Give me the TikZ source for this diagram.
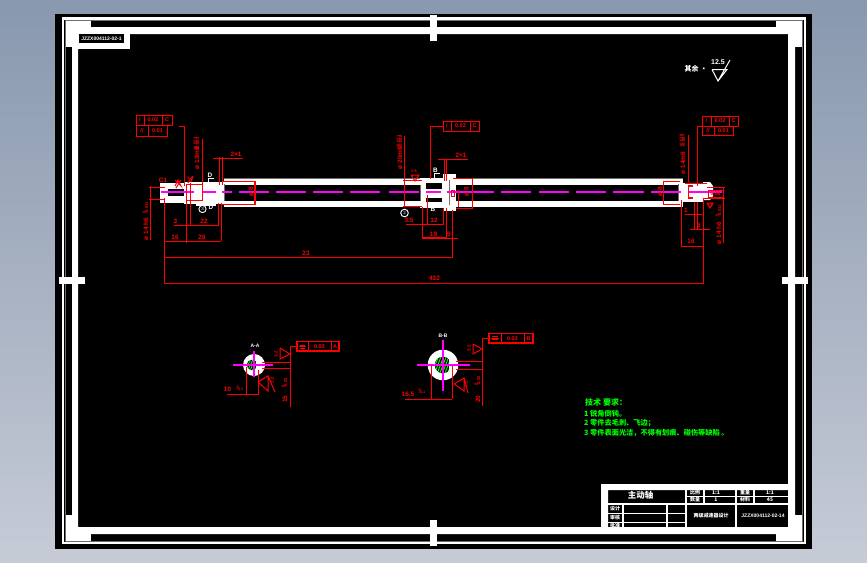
\documentclass[tikz,border=0pt]{standalone}
\usepackage{fontspec}
\setmainfont{Liberation Sans}
\newfontfamily\cjk{Noto Sans CJK SC}
\definecolor{bgtop}{RGB}{136,152,174}
\definecolor{bgbot}{RGB}{198,203,214}
\definecolor{rd}{RGB}{255,0,0}
\definecolor{mg}{RGB}{255,0,255}
\definecolor{gn}{RGB}{0,255,0}
\definecolor{edge}{RGB}{110,110,110}
\newcommand{\tolstk}[2]{\begin{tabular}{@{}l@{}}#1\\[-1.6pt]#2\end{tabular}}
\tikzset{
  x=1pt,y=-1pt,
  wfill/.style={fill=white,draw=none},
  rl/.style={draw=rd,line width=1pt},
  rb/.style={draw=rd,line width=1.6pt},
  ctr/.style={draw=mg,line width=1.1pt},
  wl/.style={draw=white,line width=1.1pt},
  rt/.style={text=rd,font=\bfseries\fontsize{6.4}{6.4}\selectfont,inner sep=0pt},
  rtv/.style={rt,rotate=90},
  tolr/.style={rt,font=\bfseries\fontsize{4.2}{4.2}\selectfont,rotate=90},
  cellt/.style={rt,font=\bfseries\fontsize{5.5}{5.5}\selectfont},
  wt/.style={text=white,font=\bfseries\fontsize{6.4}{6.4}\selectfont,inner sep=0pt},
  gt/.style={text=gn,font=\cjk\bfseries\fontsize{7.2}{7.2}\selectfont,inner sep=0pt,anchor=west},
  tbt/.style={text=white,font=\cjk\bfseries\fontsize{5}{5}\selectfont,inner sep=0pt},
}
\begin{document}
\begin{tikzpicture}
\useasboundingbox (0,0) rectangle (867,562);
\shade[top color=bgtop,bottom color=bgbot] (0,0) rectangle (867,562);
\fill[black] (55,14) rectangle (812,549);
% outer thin frame
\draw[white,line width=2.6pt] (63,18.5) rectangle (805,543);
\draw[edge,line width=0.8pt] (65.5,20.5) rectangle (802.5,541);
% thick frame
\fill[white,even odd rule] (72,27) rectangle (795,534) (78,34) rectangle (788,527);
% corner blocks
\fill[white] (66,21) rectangle (91,34);
\fill[white] (66,21) rectangle (78,47);
\fill[white] (776,21) rectangle (802,34);
\fill[white] (788,21) rectangle (802,47);
\fill[white] (66,515) rectangle (78,541);
\fill[white] (66,527) rectangle (91,541);
\fill[white] (776,527) rectangle (802,541);
\fill[white] (788,515) rectangle (802,541);
% centre ticks
\fill[white] (430,15) rectangle (437,41);
\fill[white] (430,520) rectangle (437,546);
\fill[white] (59,277) rectangle (85,284);
\fill[white] (782,277) rectangle (808,284);
% label top left
\fill[white] (78,34) rectangle (130,49);
\fill[black] (79,34) rectangle (124,43);
\node[wt,font=\bfseries\fontsize{5}{5}\selectfont] (lbl) at (101.5,38.5) {JZZX004112-02-1};
% roughness top right
\node[wt,font=\cjk\bfseries\fontsize{7}{7}\selectfont] (qy) at (696,68.5) {其余 ·};
\node[wt,font=\bfseries\fontsize{7}{7}\selectfont] (ra) at (718,62) {12.5};
\draw[white,line width=1pt] (712,69.5) -- (727,69.5) -- (718,81) -- (712,69.5) (718,81) -- (730,60);
% ---------------- shaft
\fill[white] (224,178) rectangle (683,185);
\fill[white] (224,201) rectangle (683,207);
\draw[edge,line width=0.7pt] (224,178) -- (683,178);
\fill[white] (160,183) rectangle (184,203);
\fill[white] (184,182) rectangle (224,204);
\fill[white] (196,204) rectangle (216,206);
\fill[black] (168,189) rectangle (184,196);
\draw[white,line width=0.6pt] (168,192.5) -- (184,192.5);
\draw[edge,line width=0.8pt] (224.5,184) -- (224.5,201);
% middle block
\fill[white] (420,178) rectangle (443,208);
\fill[white] (443,174) rectangle (456,211);
\fill[black] (426,183) rectangle (442,189);
\fill[black] (426,198) rectangle (442,202);
\draw[edge,line width=0.7pt] (449.5,180) -- (449.5,205);
\draw[edge,line width=0.7pt] (420,185) -- (420,201);
% right end
\fill[white] (678,184) rectangle (703,202);
\fill[white] (683,183) rectangle (703,202);
\fill[white] (703,182) -- (710,182) -- (713,186) -- (713,196) -- (710,200) -- (703,200) -- cycle;
\draw[edge,line width=0.8pt] (678,184) -- (678,201);
% letter marks
\node[wt] (dtop) at (210,175) {D};
\draw[white,line width=0.8pt] (208,182) -- (208,178) -- (214,178);
\node[wt] (dbot) at (211,207) {D};
\draw[white,line width=0.9pt] (202.5,209) circle (3.6);
\node[wt,font=\fontsize{4.5}{4.5}\selectfont] (d3) at (202.5,209) {3};
\node[wt] (btop) at (435.5,170) {B};
\draw[white,line width=0.8pt] (434,178) -- (434,173.5) -- (440,173.5);
\node[wt] (bbot) at (433,209.5) {B};
\draw[white,line width=0.9pt] (404.5,213) circle (3.8);
\node[wt,font=\fontsize{4.5}{4.5}\selectfont] (b2) at (404.5,213) {2};
% centre line
\foreach \a/\b in {161/194,203/216,222/232,239/269,276/306,313/343,350/380,389/419,426/441,447/494,501/531,539/569,576/606,613/644,651/681,688/722}
  \draw[ctr] (\a,192) -- (\b,192);
% ---------------- left dims
\draw[rl] (136,115) rectangle (172,125) (144,115) -- (144,125) (162,115) -- (162,125);
\draw[rl] (136,125) rectangle (167,136) (148,125) -- (148,136);
\node[cellt] (a1) at (140,120) {/};
\node[cellt] (a2) at (153,120) {0.02};
\node[cellt] (a3) at (167,120) {C};
\node[cellt] (a4) at (142,130.5) {//};
\node[cellt] (a5) at (157.5,130.5) {0.01};
\draw[rl] (179,126) -- (184.5,126) -- (184.5,186);
\node[rtv] (l1) at (197,158) {ø 13m6};
\node[tolr] (l1t) at (197,144) {\tolstk{+0.023}{+0.002}};
\draw[rl] (202,139) -- (202,200) (186,200) -- (203,200) (186,184.5) -- (203,184.5);
\node[rt] (l2) at (236,154) {2×1};
\draw[rl] (213,158) -- (243,158) (219,157) -- (219,185) (222,157) -- (222,185);
\node[rtv] (l3) at (146,229) {ø 14 h6};
\node[tolr] (l3t) at (146,208) {\tolstk{0}{-0.011}};
\draw[rl] (150,186) -- (150,240) (149,187) -- (165,187) (149,199) -- (164,199);
\node[rt] (l4) at (175.5,221) {3};
\node[rt] (l5) at (204,221) {22};
\draw[rl] (174,225) -- (218,225) (190,183) -- (190,225) (218,203) -- (218,226);
\node[rt] (l6) at (175,237) {16};
\node[rt] (l7) at (202,237) {26};
\draw[rl] (164,241) -- (221,241) (164,198) -- (164,284) (186,184) -- (186,243) (221,203) -- (221,241);
\draw[rb] (222,181.5) -- (255,181.5) -- (255,204.5) -- (222,204.5);
\node[rtv] (l8) at (251,192) {ø 8};
\node[rt] (l9) at (163,180) {C1};
\draw[rl] (175,186) -- (178,180) -- (181,186) -- (175,180) (181,180) -- (176,188);
\draw[rl] (188,183) -- (191,178) (191,182) -- (193,176);
\node[rt,font=\bfseries\fontsize{4}{4}\selectfont] (l10) at (190,178) {1.6};
\draw[rl] (164,257) -- (452,257) (164,283) -- (703,283);
\node[rt] (d1) at (306,253) {23};
\node[rt] (d2) at (434.5,278.5) {432};
% ---------------- middle dims
\draw[rl] (443,121) rectangle (479,131) (451,121) -- (451,131) (470,121) -- (470,131);
\node[cellt] (b3) at (447,126) {/};
\node[cellt] (b4) at (460.5,126) {0.02};
\node[cellt] (b5) at (474.5,126) {C};
\draw[rl] (443,126) -- (430.5,126) -- (430.5,179);
\node[rtv] (m1) at (400,158) {ø 20m6};
\node[tolr] (m1t) at (400,142) {\tolstk{+0.021}{+0.008}};
\draw[rl] (404,136) -- (404,206) (403,180) -- (422,180) (403,206) -- (422,206);
\draw[rl] (411,175) -- (419,175) -- (415,181) -- (411,175);
\node[rt,font=\bfseries\fontsize{4}{4}\selectfont] (m2) at (414,171) {1.6};
\node[rt] (m3) at (461,155) {2×1};
\draw[rl] (438,159) -- (468,159) (444,159) -- (444,181) (446.5,159) -- (446.5,181);
\draw[rl] (453,178) -- (472,178) -- (472,208) -- (456,208);
\node[rtv] (m4) at (466.5,192) {ø 8};
\draw[rl] (458,190) -- (458,207) (451,190) rectangle (454,196);
\node[rt] (m5) at (409,220) {3.5};
\node[rt] (m6) at (434,220) {12};
\draw[rl] (406,224) -- (443,224) (427,195) -- (427,225) (443,208) -- (443,225);
\node[rt] (m7) at (433.5,234) {19};
\node[rt] (m8) at (449,234) {5};
\draw[rb] (422,238) -- (446,238);
\draw[rl] (446,238) -- (458,238) (422,207) -- (422,238) (446,208) -- (446,238) (452,210) -- (452,258);
% ---------------- right dims
\draw[rl] (702,116) rectangle (738,126) (711,116) -- (711,126) (729,116) -- (729,126);
\draw[rl] (702,126) rectangle (733,135) (714,126) -- (714,135);
\node[cellt] (c1) at (706.5,121) {/};
\node[cellt] (c2) at (720,121) {0.02};
\node[cellt] (c3) at (733.5,121) {C};
\node[cellt] (c4) at (708,130.5) {//};
\node[cellt] (c5) at (723.5,130.5) {0.01};
\draw[rl] (702,126) -- (697.5,126) -- (697.5,186);
\node[rtv] (r1) at (683,163) {ø 14m6};
\node[tolr] (r1t) at (683,141) {\tolstk{+0.018}{+0.007}};
\draw[rl] (688,135) -- (688,182) (685,183) -- (707,183);
\draw[rl] (707,187) -- (725,187) (703,198) -- (725,198) (723,187) -- (723,243);
\node[rtv] (r2) at (719,233) {ø 14 h6};
\node[tolr] (r2t) at (719,211) {\tolstk{0}{-0.011}};
\draw[rb] (680,181.5) -- (663.5,181.5) -- (663.5,204.5) -- (680,204.5);
\node[rtv] (r3) at (660,192) {ø 8};
\draw[rb] (693,186) -- (688.5,186) -- (688.5,198) -- (693,198);
\draw[rl] (708,190) rectangle (723,197);
\node[rt,font=\bfseries\fontsize{5}{5}\selectfont] (r4) at (715.5,193.5) {0.08};
\node[rt,font=\bfseries\fontsize{4}{4}\selectfont] (r5) at (710,205) {1.6};
\draw[rl] (707,203) -- (713,203) -- (710,208) -- (707,203);
\draw[rl] (681,200) -- (681,247) (703,198) -- (703,284) (681,246) -- (703,246);
\node[rt] (r6) at (691,241) {16};
\draw[rl] (694,202) -- (694,230) (697,202) -- (697,230) (685,214) -- (702,214) (690,229) -- (710,229);
\node[rt] (r7) at (686,210) {1};
\node[rt] (r8) at (699,225) {6};
% ---------------- section A-A
\fill[white] (254,365) circle (11);
\begin{scope}
\clip (252,365) circle (5.3);
\clip (246,358) rectangle (256,372);
\fill[black] (246,358) rectangle (256,372);
\foreach \k in {0,2.4,...,26} \draw[gn,line width=0.8pt] (240+\k,376) -- (250+\k,356);
\end{scope}
\draw[ctr] (233,365) -- (273,365) (254,351) -- (254,377);
\node[wt,font=\bfseries\fontsize{5}{5}\selectfont] (sa) at (255,346) {A-A};
\draw[rl] (290,346) -- (290,407) (290,346) -- (297,346);
\draw[rb] (297,341.5) rectangle (339,351);
\draw[rl] (308,341.5) -- (308,351) (331,341.5) -- (331,351);
\draw[rl] (300,345) -- (305,345) (299,346.5) -- (306,346.5) (300,348) -- (305,348);
\node[cellt] (sa2) at (319.5,346.5) {0.02};
\node[cellt] (sa3) at (335,346.5) {A};
\draw[rl] (262,362) -- (290,362) (262,368) -- (290,368);
\draw[rl] (280,348) -- (280,359) -- (290,354) -- (280,348);
\node[rtv,font=\bfseries\fontsize{4.5}{4.5}\selectfont] (sa4) at (276,354) {3.2};
\draw[rl] (258,382) -- (268,376) -- (268,391) -- (258,382) (268,376) -- (275,392);
\node[rtv,font=\bfseries\fontsize{4.5}{4.5}\selectfont] (sa5) at (272,380) {3.2};
\node[rtv] (sa6) at (285,399) {15};
\node[tolr] (sa7) at (285,383) {\tolstk{0}{-0.02}};
\draw[rl] (246,367) -- (246,395) (258,370) -- (258,395) (227,394) -- (258,394);
\node[rt] (sa8) at (227.5,389.5) {10};
\node[rt,font=\bfseries\fontsize{3.8}{3.8}\selectfont] (sa9) at (240,388.5) {\tolstk{0}{-0.1}};
% ---------------- section B-B
\fill[white] (443,365) circle (15.3);
\begin{scope}
\clip (443,365) circle (8.3);
\clip (434,355) rectangle (449,375);
\fill[black] (434,355) rectangle (449,375);
\foreach \k in {0,2.6,...,36} \draw[gn,line width=0.9pt] (425+\k,378) -- (435+\k,352);
\end{scope}
\draw[ctr] (417,365) -- (470,365) (443,340) -- (443,391);
\node[wt,font=\bfseries\fontsize{5}{5}\selectfont] (sb) at (443,336) {B-B};
\draw[rl] (482,339) -- (482,406) (482,338) -- (489,338);
\draw[rb] (489,333.5) rectangle (533,343);
\draw[rl] (501,333.5) -- (501,343) (524,333.5) -- (524,343);
\draw[rl] (492,336.5) -- (498,336.5) (491,338) -- (499,338) (492,339.5) -- (498,339.5);
\node[cellt] (sb2) at (512.5,338.5) {0.02};
\node[cellt] (sb3) at (528.5,338.5) {B};
\draw[rl] (456,361) -- (483,361) (456,369) -- (483,369);
\draw[rl] (473,344) -- (473,354) -- (482,349) -- (473,344);
\node[rtv,font=\bfseries\fontsize{4.5}{4.5}\selectfont] (sb4) at (469,348) {3.2};
\draw[rl] (454,384) -- (464,378) -- (464,391) -- (454,384) (464,378) -- (468,393);
\node[rtv,font=\bfseries\fontsize{4.5}{4.5}\selectfont] (sb5) at (466,384) {3.2};
\node[rtv] (sb6) at (478,399) {20};
\node[tolr] (sb7) at (478,381) {\tolstk{0}{-0.02}};
\draw[rl] (431,365) -- (431,399) (452,366) -- (452,399) (405,399) -- (452,399);
\node[rt] (sb8) at (408,394) {16.5};
\node[rt,font=\bfseries\fontsize{3.8}{3.8}\selectfont] (sb9) at (422,392) {\tolstk{0}{-0.1}};
% ---------------- technical notes
\node[gt,font=\cjk\bfseries\fontsize{8}{8}\selectfont] (n0) at (585,402) {技术 要求：};
\node[gt] (n1) at (584,414) {1 锐角倒钝。};
\node[gt] (n2) at (584,423) {2 零件去毛刺、飞边；};
\node[gt] (n3) at (584,433) {3 零件表面光洁，不得有划痕、碰伤等缺陷 。};
% ---------------- title block
\fill[white,even odd rule] (601,484) rectangle (788,527) (608,490) rectangle (788,527);
\draw[wl] (686,490) -- (686,527) (608,504) -- (788,504) (686,496.5) -- (788,496.5)
  (704,490) -- (704,504) (736,490) -- (736,527) (754,490) -- (754,504)
  (623,504) -- (623,527) (667,504) -- (667,527) (608,513.5) -- (686,513.5) (608,522.5) -- (686,522.5);
\node[tbt,font=\cjk\bfseries\fontsize{8.5}{8.5}\selectfont] (t0) at (640.5,495.5) {主动轴};
\node[tbt] (t1) at (695,493) {比例};
\node[tbt] (t2) at (716,493) {1:1};
\node[tbt] (t3) at (745,493) {重量};
\node[tbt] (t4) at (770,493) {1:1};
\node[tbt] (t5) at (695,500) {数量};
\node[tbt] (t6) at (716,500) {1};
\node[tbt] (t7) at (745,500) {材料};
\node[tbt] (t8) at (770,500) {45};
\node[tbt] (t9) at (615,509) {设计};
\node[tbt] (t10) at (615,518) {审核};
\node[tbt] (t11) at (615,526) {批准};
\node[tbt] (t12) at (711,516) {两级减速器设计};
\node[wt,font=\bfseries\fontsize{5}{5}\selectfont] (t13) at (763,516) {JZZX004112-02-14};
\end{tikzpicture}
\end{document}
